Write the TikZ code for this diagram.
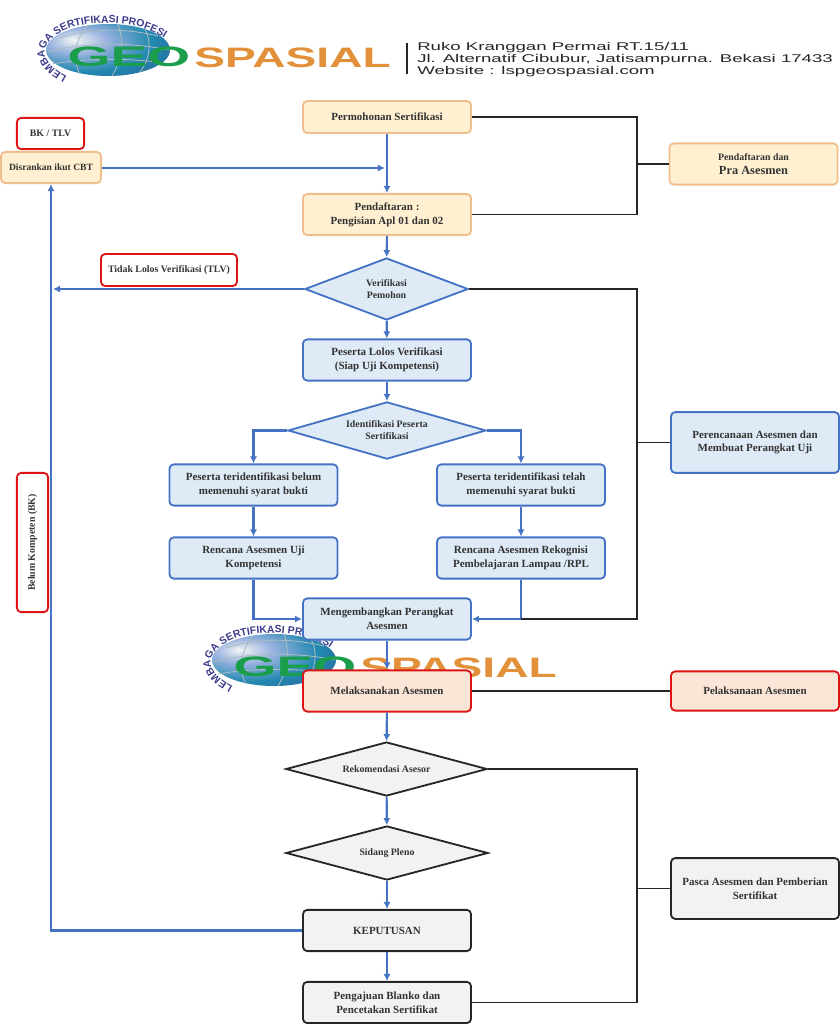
\documentclass[tikz,border=0pt]{standalone}
\usepackage{fontspec}
\setmainfont{Liberation Serif}
\newfontfamily\logofont{Liberation Sans}
\usetikzlibrary{arrows.meta, positioning, shapes.geometric, calc, decorations.text}
\definecolor{flowBlue}{HTML}{4472C4}
\definecolor{paleBlue}{HTML}{DEEAF6}
\definecolor{creamFill}{HTML}{FFF0D2}
\definecolor{creamLine}{HTML}{F0BE8C}
\definecolor{alertRed}{HTML}{DC1414}
\definecolor{peachFill}{HTML}{FBE5D6}
\definecolor{paleGray}{HTML}{F2F2F2}
\definecolor{darkLine}{HTML}{262626}
\definecolor{bodyText}{HTML}{333333}
\definecolor{geoGreen}{HTML}{1A9E4B}
\definecolor{geoOrange}{HTML}{E2913A}
\definecolor{arcPurple}{HTML}{3C3C8C}
\definecolor{gridGray}{HTML}{A9BCC0}
\pgfdeclareradialshading{globeshade}{\pgfpoint{-14bp}{10bp}}{color(0bp)=(white!85!gridGray); color(12bp)=(white!45!flowBlue); color(28bp)=(flowBlue!60!cyan!80!black); color(50bp)=(flowBlue!70!black); color(75bp)=(flowBlue!45!black); color(100bp)=(flowBlue!45!black)}
\newcommand{\geologo}{%
  \shade[shading=globeshade] (108,50) ellipse [x radius=62, y radius=26];
  \draw[gridGray, line width=0.6pt] (60,38) .. controls (90,28) and (125,28) .. (158,36);
  \draw[gridGray, line width=0.6pt] (47,52) .. controls (85,42) and (130,42) .. (169,50);
  \draw[gridGray, line width=0.6pt] (52,64) .. controls (85,58) and (130,58) .. (164,63);
  \draw[gridGray, line width=0.6pt] (88,25) .. controls (74,40) and (72,60) .. (80,74);
  \draw[gridGray, line width=0.6pt] (118,24) .. controls (124,40) and (122,60) .. (112,76);
  \draw[gridGray, line width=0.6pt] (145,29) .. controls (152,42) and (150,60) .. (140,72);
  \path[decorate, decoration={text along path, text align=center,
      text={|\logofont\fontsize{7.4}{8}\selectfont\bfseries\color{arcPurple}|LEMBAGA SERTIFIKASI PROFESI}}]
    (84,83) .. controls (54,75) and (36,56) .. (49,42) .. controls (62,27) and (85,23) .. (108,23) .. controls (137,23) and (162,32) .. (178,50);
  \node[font=\logofont\fontsize{20}{20}\selectfont\bfseries, text=geoGreen, inner sep=0pt] at (129,57) {\scalebox{1.96}[1]{GEO}};
  \node[font=\logofont\fontsize{20}{20}\selectfont\bfseries, text=geoOrange, inner sep=0pt] at (292.5,57.5) {\scalebox{1.64}[1]{SPASIAL}};
}
\begin{document}
\begin{tikzpicture}[x=0.025cm, y=-0.025cm, font=\fontsize{7}{9.5}\selectfont\bfseries, text=bodyText,
    flowbox/.style={rectangle, rounded corners=3pt, line width=1.3pt, minimum width=4.2cm, minimum height=1.03cm, align=center, inner sep=1pt, font=\fontsize{7.8}{9.8}\selectfont\bfseries},
    cream/.style={flowbox, draw=creamLine, fill=creamFill},
    bluebox/.style={flowbox, draw=flowBlue, fill=paleBlue},
    graybox/.style={flowbox, draw=darkLine, fill=paleGray},
    peach/.style={flowbox, draw=alertRed, fill=peachFill},
    tag/.style={rectangle, rounded corners=3pt, line width=1.3pt, draw=alertRed, fill=white, align=center, inner sep=1pt},
    choice/.style={diamond, line width=1.3pt, align=center, inner sep=0pt, font=\fontsize{7}{8.6}\selectfont\bfseries},
    flow/.style={draw=flowBlue, line width=1.5pt, -{Latex[length=5pt, width=5pt]}},
    side/.style={draw=darkLine, line width=1.4pt}]
    \useasboundingbox (0,0) rectangle (840,1024);
    % --- kop surat ---
    \geologo
    \draw[darkLine, line width=1.1pt] (407,43) -- (407,74);
    \node[font=\logofont\fontsize{8}{7}\selectfont, text=darkLine, anchor=west, align=left, inner sep=0pt] (alamat) at (417,59.5)
      {\scalebox{1.656}[1]{Ruko Kranggan Permai RT.15/11}\\ \scalebox{1.656}[1]{Jl. Alternatif Cibubur, Jatisampurna. Bekasi 17433}\\ \scalebox{1.656}[1]{Website : lspgeospasial.com}};
    % --- logo tengah ---
    \begin{scope}[shift={(166,610)}]
      \geologo
    \end{scope}
    % --- kolom tengah ---
    \node[cream, minimum height=0.8cm] (mohon) at (387,117) {Permohonan Sertifikasi};
    \node[cream] (daftar) at (387,214.5) {Pendaftaran :\\Pengisian Apl 01 dan 02};
    \node[choice, aspect=2.63, draw=flowBlue, fill=paleBlue, minimum width=4.08cm, minimum height=1.55cm] (verif) at (386.5,289) {Verifikasi\\Pemohon};
    \node[bluebox] (lolos) at (387,360) {Peserta Lolos Verifikasi\\(Siap Uji Kompetensi)};
    \node[choice, aspect=3.47, draw=flowBlue, fill=paleBlue, minimum width=4.95cm, minimum height=1.43cm] (ident) at (387,430.5) {Identifikasi Peserta\\Sertifikasi};
    \node[bluebox] (belum) at (253.5,485) {Peserta teridentifikasi belum\\memenuhi syarat bukti};
    \node[bluebox] (telah) at (521,485) {Peserta teridentifikasi telah\\memenuhi syarat bukti};
    \node[bluebox] (ruk) at (253.5,558) {Rencana Asesmen Uji\\Kompetensi};
    \node[bluebox] (rpl) at (521,558) {Rencana Asesmen Rekognisi\\Pembelajaran Lampau /RPL};
    \node[bluebox] (kembang) at (387,619) {Mengembangkan Perangkat\\Asesmen};
    \node[peach] (laksana) at (387,691) {Melaksanakan Asesmen};
    \node[choice, aspect=3.7, draw=darkLine, fill=paleGray, minimum width=5.03cm, minimum height=1.35cm] (rekom) at (386.5,769) {Rekomendasi Asesor};
    \node[choice, aspect=3.7, draw=darkLine, fill=paleGray, minimum width=5.05cm, minimum height=1.35cm] (pleno) at (387,853) {Sidang Pleno};
    \node[graybox] (putus) at (387,930.5) {KEPUTUSAN};
    \node[graybox] (blanko) at (387,1002.5) {Pengajuan Blanko dan\\Pencetakan Sertifikat};
    % --- kolom kanan ---
    \node[cream, font=\fontsize{7}{10}\selectfont\bfseries] (pra) at (753.5,164) {Pendaftaran dan\\{\fontsize{8.8}{10}\selectfont Pra Asesmen}};
    \node[bluebox, minimum height=1.52cm] (rencana) at (755,442.5) {Perencanaan Asesmen dan\\Membuat Perangkat Uji};
    \node[peach, minimum height=0.98cm] (pelaksanaan) at (755,691) {Pelaksanaan Asesmen};
    \node[graybox, minimum height=1.52cm] (pasca) at (755,888.5) {Pasca Asesmen dan Pemberian\\Sertifikat};
    % --- kolom kiri ---
    \node[tag, minimum width=1.68cm, minimum height=0.78cm] (bktlv) at (50.5,133.5) {BK / TLV};
    \node[cream, font=\fontsize{6.8}{9}\selectfont\bfseries, minimum width=2.5cm, minimum height=0.78cm] (cbt) at (51,167.5) {Disrankan ikut CBT};
    \node[tag, minimum width=3.4cm, minimum height=0.8cm] (tlv) at (169,270) {Tidak Lolos Verifikasi (TLV)};
    \node[tag, rotate=90, minimum width=3.48cm, minimum height=0.78cm] (bk) at (32.5,542.5) {Belum Kompeten (BK)};
    % --- panah biru ---
    \coordinate (masuk) at (385,168);
    \coordinate (kiri) at (53,289);
    \draw[flow] (mohon) -- (daftar);
    \draw[flow] (cbt.east |- masuk) -- (masuk);
    \draw[flow] (daftar) -- (verif);
    \draw[flow] (verif) -- (lolos);
    \draw[flow] (lolos) -- (ident);
    \draw[flow] (verif.west) -- (kiri);
    \draw[flow] (ident.west) -| (belum.north);
    \draw[flow] (ident.east) -| (telah.north);
    \draw[flow] (belum) -- (ruk);
    \draw[flow] (telah) -- (rpl);
    \draw[flow] (ruk.south) |- (kembang.west);
    \draw[flow] (rpl.south) |- (kembang.east);
    \draw[flow] (kembang) -- (laksana);
    \draw[flow] (laksana) -- (rekom);
    \draw[flow] (rekom) -- (pleno);
    \draw[flow] (pleno) -- (putus);
    \draw[flow] (putus) -- (blanko);
    \draw[flow] (putus.west) -| (cbt.south);
    % --- garis hitam ---
    \coordinate (railA) at (637,117);
    \coordinate (railB) at (637,289);
    \coordinate (railC) at (637,769);
    \draw[side] (mohon.east) -- (railA) |- (daftar.east);
    \draw[side] (pra.west) -- (pra.west -| railA);
    \draw[side] (verif.east) -- (railB) |- (rpl.south |- kembang.east);
    \draw[side] (rencana.west) -- (rencana.west -| railB);
    \draw[side] (laksana.east) -- (pelaksanaan.west);
    \draw[side] (rekom.east) -- (railC) |- (blanko.east);
    \draw[side] (pasca.west) -- (pasca.west -| railC);
\end{tikzpicture}
\end{document}
